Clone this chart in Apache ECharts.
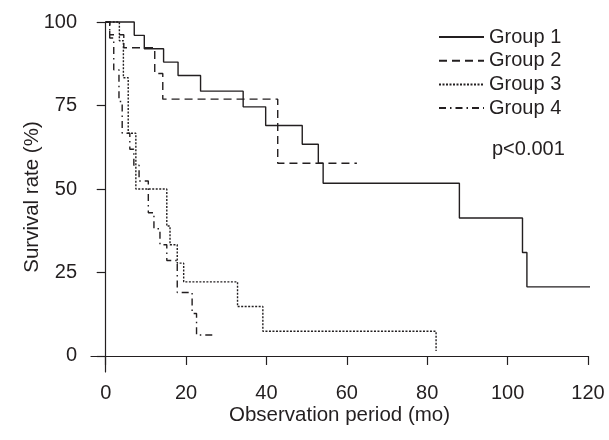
<!DOCTYPE html>
<html><head><meta charset="utf-8">
<script src="https://cdn.jsdelivr.net/npm/echarts@6/dist/echarts.min.js"></script>
<style>html,body{margin:0;padding:0;background:#fff}#c{width:609px;height:440px}</style>
</head><body><div id="c"></div>
<script>
// Kaplan-Meier curves: [time (mo), survival (%)] at each step
const group1 = [[0,100],[7.1,96],[9.6,92],[14.4,88],[18,84],[23.6,79.3],[34.2,74.6],[39.8,69],[48.9,63.4],[52.9,57.7],[54.1,51.7],[88,41.3],[103.7,31],[104.8,20.7],[122,20.7]];
const group2 = [[0,100],[1,96.2],[4.5,92.3],[12.2,84.6],[14.2,76.9],[42.8,57.7],[62.5,57.7]];
const group3 = [[0,100],[3.4,94.4],[4.4,83.3],[5.6,66.7],[7.5,50],[15.2,38.9],[16,33.3],[17.8,27.8],[19.4,22.2],[32.8,14.8],[39.1,7.4],[82.2,7.4],[82.2,1.5]];
const group4 = [[0,100],[1,95.2],[2,85.7],[3.3,76.2],[4.1,66.7],[6,61.9],[7,57.1],[8.3,52.4],[10.6,42.9],[12,38.1],[13.5,33.3],[15.2,28.6],[17.8,19],[21.5,12.7],[22.6,6.3],[26.8,6.3]];
const seriesNames = ['Group 1','Group 2','Group 3','Group 4'];
const xTicks = [0,20,40,60,80,100,120];
const yTicks = [0,25,50,75,100];
const pText = 'p<0.001';

const ink = '#231f20';
const font = 'Liberation Sans, Arial, Helvetica, sans-serif';
const dashes = ['solid',[8,5],[2,1.5],[7,4,1.5,4]];
const chart = echarts.init(document.getElementById('c'));
const mk = (name, data, i) => ({
  name, type:'line', data, step:'end', symbol:'none', showSymbol:false, clip:false, animation:false,
  lineStyle:{color:ink, width:1.4, type:dashes[i]}, itemStyle:{color:ink}
});
chart.setOption({
  animation:false,
  grid:{left:91, top:22, right:21, bottom:68, containLabel:false},
  xAxis:{type:'value', min:-3.66, max:120,
    name:'Observation period (mo)', nameLocation:'middle', nameGap:33, nameMoveOverlap:false,
    nameTextStyle:{color:ink, fontSize:20.5, fontFamily:font, verticalAlign:'top'},
    axisLine:{lineStyle:{color:ink, width:1.2}},
    axisTick:{show:true, length:9, customValues:xTicks, lineStyle:{color:ink, width:1.2}},
    axisLabel:{color:ink, fontSize:20, fontFamily:font, margin:11, customValues:xTicks},
    splitLine:{show:false}},
  yAxis:{type:'value', min:-4.8, max:100,
    name:'Survival rate (%)', nameLocation:'middle', nameGap:48, nameRotate:90, nameMoveOverlap:false,
    nameTextStyle:{color:ink, fontSize:20.5, fontFamily:font},
    axisLine:{show:true, lineStyle:{color:ink, width:1.2}},
    axisTick:{show:true, length:9, customValues:yTicks, lineStyle:{color:ink, width:1.2}},
    axisLabel:{color:ink, fontSize:20, fontFamily:font, margin:14, customValues:yTicks},
    splitLine:{show:false}},
  legend:{orient:'vertical', left:433, top:22, itemWidth:45, itemHeight:14, itemGap:3.7,
    data:seriesNames, inactiveColor:ink, itemStyle:{opacity:0},
    textStyle:{color:ink, fontSize:20, fontFamily:font, lineHeight:20}},
  graphic:[{type:'text', left:492, top:139, style:{text:pText, fill:ink, font:'20px '+font}}],
  series:[mk(seriesNames[0],group1,0),mk(seriesNames[1],group2,1),mk(seriesNames[2],group3,2),mk(seriesNames[3],group4,3)]
});
</script></body></html>
